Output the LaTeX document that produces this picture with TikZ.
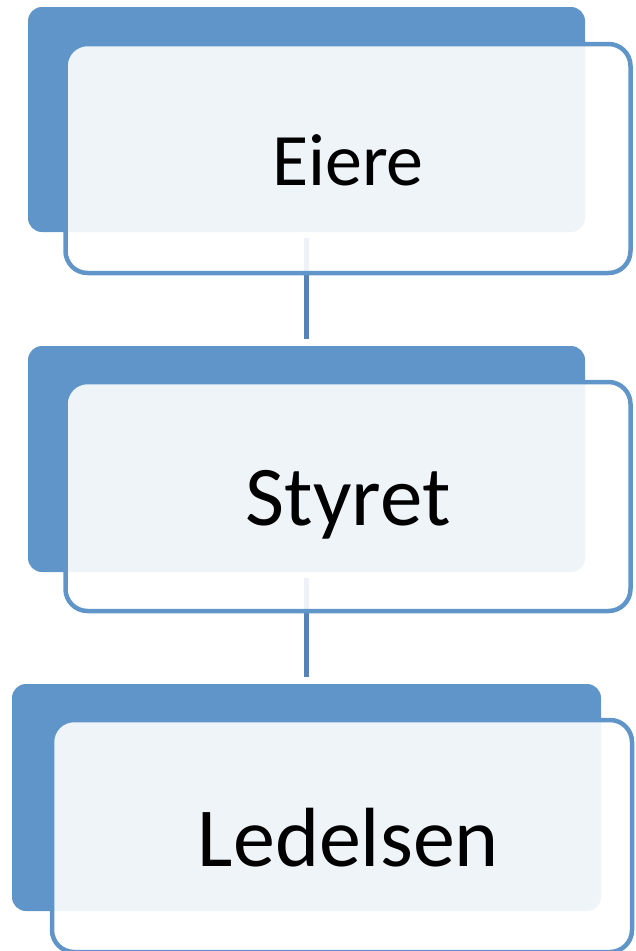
\documentclass[tikz,border=0pt]{standalone}
\usepackage{fontspec}
\setmainfont{Carlito}
\usetikzlibrary{positioning}
\definecolor{boxblue}{RGB}{95,149,200}
\definecolor{linkblue}{RGB}{83,131,185}
\tikzstyle{back} = [rectangle, fill=boxblue, rounded corners=14pt,
    inner sep=0pt]
\tikzstyle{front} = [rectangle, draw=boxblue, line width=4.5pt, fill=white,
    fill opacity=0.9, rounded corners=22pt, inner sep=0pt]
\tikzstyle{link} = [draw=linkblue, line width=5pt]

\begin{document}
\begin{tikzpicture}[x=1pt,y=-1pt]
  \useasboundingbox (0,0) rectangle (635,951);

  \node[back, minimum width=557pt, minimum height=225pt] (back1) at (306.5,119.5) {};
  \node[back, minimum width=557pt, minimum height=226pt] (back2) at (306.5,459) {};
  \node[back, minimum width=589pt, minimum height=227pt] (back3) at (306.5,797.5) {};

  \draw[link, shorten <=6pt, shorten >=7pt] (back1.south) -- (back2.north);
  \draw[link, shorten <=6pt, shorten >=7pt] (back2.south) -- (back3.north);

  \node[front, minimum width=565pt, minimum height=229pt] (front1) at (348,158.5) {};
  \node[front, minimum width=565pt, minimum height=229pt] (front2) at (348,496.5) {};
  \node[front, minimum width=580pt, minimum height=232pt] (front3) at (342,836) {};

  \node[font=\fontsize{74}{80}\selectfont, anchor=base] (eiere) at (348,185) {Eiere};
  \node[font=\fontsize{85}{90}\selectfont, anchor=base] (styret) at (348,525) {Styret};
  \node[font=\fontsize{84}{90}\selectfont, anchor=base] (ledelsen) at (348.5,866) {Ledelsen};
\end{tikzpicture}
\end{document}
